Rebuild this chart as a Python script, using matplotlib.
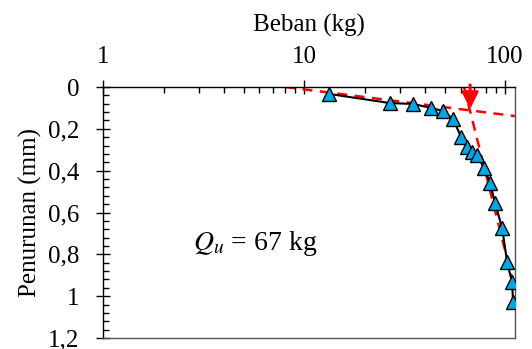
import matplotlib
matplotlib.use('Agg')
import matplotlib.pyplot as plt
from matplotlib.ticker import FixedLocator, LogLocator, NullFormatter, MultipleLocator
import numpy as np

plt.rcParams['font.family'] = ['Liberation Serif', 'DejaVu Serif']
plt.rcParams['mathtext.fontset'] = 'stix'

# load (kg) and settlement (mm)
beban = [13.3, 26.8, 34.9, 42.8, 49.2, 55.1, 60.4, 64.7, 68.5, 72.6,
         78.6, 84.2, 89.2, 96.7, 102.3, 108.3, 109.6]
penurunan = [0.033, 0.077, 0.081, 0.100, 0.115, 0.153, 0.239, 0.287, 0.311, 0.325,
             0.388, 0.459, 0.555, 0.675, 0.837, 0.933, 1.029]

# tangent lines (two end points each)
garis1_x = [8.05, 112]
garis1_y = [0.0, 0.139]
garis2_x = [62.5, 112]
garis2_y = [0.0, 0.97]

qu = 67
qu_y = 0.105

y_ticks = [0, 0.2, 0.4, 0.6, 0.8, 1.0, 1.2]
y_ticklabels = ['0', '0,2', '0,4', '0,6', '0,8', '1', '1,2']
x_ticks = [1, 10, 100]
x_ticklabels = ['1', '10', '100']

fig = plt.figure(figsize=(5.32, 3.49), dpi=100)
ax = fig.add_axes([103/532, 1 - 338/349, 412/532, 251/349])

ax.plot(garis1_x, garis1_y, '--', color='red', lw=1.8, dashes=(4, 3), zorder=2)
ax.plot(garis2_x, garis2_y, '--', color='red', lw=1.8, dashes=(4, 3), zorder=2)
ax.plot(beban, penurunan, '-', color='black', lw=1.5, zorder=3)
ax.plot(beban, penurunan, '^', color='#00A8E8', mec='black', mew=1.0, ms=10.5, zorder=4)

# arrow marking Qu
ax.annotate('', xy=(qu, qu_y), xytext=(qu, -0.01),
            arrowprops=dict(arrowstyle='-|>,head_length=1.0,head_width=0.5',
                            color='red', lw=2.2, shrinkA=0, shrinkB=0),
            annotation_clip=False, zorder=5)

ax.set_xscale('log')
ax.set_xlim(1, 112)
ax.set_ylim(1.2, 0)

ax.xaxis.tick_top()
ax.xaxis.set_label_position('top')
ax.xaxis.set_major_locator(FixedLocator(x_ticks))
ax.set_xticklabels(x_ticklabels)
ax.xaxis.set_minor_locator(LogLocator(base=10, subs=np.arange(2, 10)))
ax.xaxis.set_minor_formatter(NullFormatter())

ax.yaxis.set_major_locator(FixedLocator(y_ticks))
ax.set_yticklabels(y_ticklabels)
ax.yaxis.set_minor_locator(MultipleLocator(0.04))

ax.tick_params(which='major', direction='inout', length=10, width=1.0, labelsize=18)
ax.tick_params(axis='x', which='major', pad=9)
ax.tick_params(axis='y', which='major', pad=12)
ax.tick_params(which='minor', direction='in', length=4, width=1.0)

for s in ax.spines.values():
    s.set_linewidth(1.0)
ax.spines['right'].set_color('#555555')
ax.spines['bottom'].set_color('#555555')

ax.set_xlabel('Beban (kg)', fontsize=18, labelpad=10)
ax.set_ylabel('Penurunan (mm)', fontsize=18, labelpad=4)

ax.text(193, 349 - 250, r'$Q_u$ = ' + str(qu) + ' kg', fontsize=20,
        transform=None, va='baseline', ha='left')

fig.savefig('out.png', dpi=100)
